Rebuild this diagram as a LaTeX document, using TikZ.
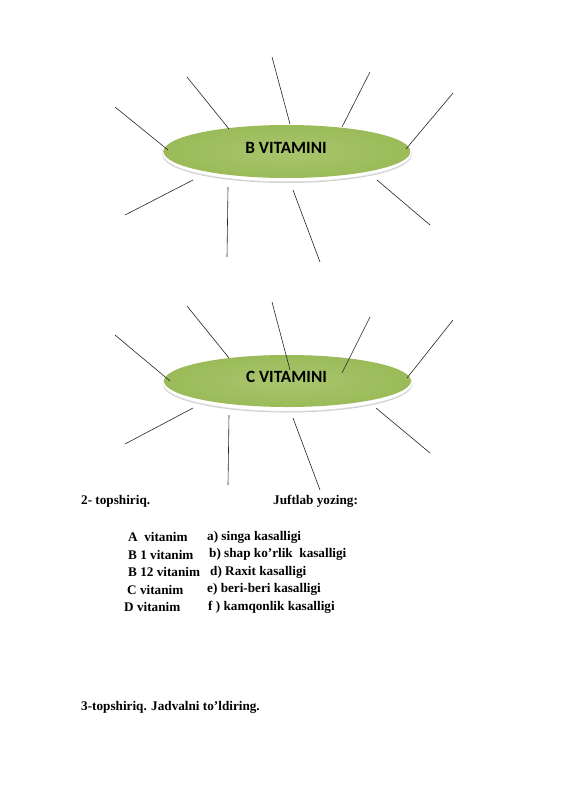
\documentclass[tikz,border=0pt]{standalone}
\usepackage{fontspec}
\setmainfont{Liberation Serif}
\newfontfamily\calib{Carlito}
\definecolor{olive}{HTML}{9BBB59}
\definecolor{olivelight}{HTML}{A9C56D}
\tikzset{
  spoke/.style={draw=black!85, line width=0.6pt},
  vtitle/.style={font=\calib\bfseries\fontsize{17.2}{20}\selectfont, inner sep=0pt},
  body/.style={font=\bfseries\fontsize{13.2}{15}\selectfont, inner sep=0pt, anchor=west},
}
\newcommand{\vellipse}[3]{%
  \fill[black!18] (#1,#2+3.5) ellipse [x radius=124.5, y radius=28];
  \fill[white] (#1,#2+2.2) ellipse [x radius=124.5, y radius=28];
  \draw[black!12, line width=0.4pt] (#1,#2+2.2) ellipse [x radius=124.5, y radius=28];
  \shade[inner color=olivelight, outer color=olive] (#1,#2) ellipse [x radius=123.5, y radius=#3];
}
\begin{document}
\begin{tikzpicture}[x=1pt,y=-1pt]
\useasboundingbox (0,0) rectangle (565,800);
\fill[white] (0,0) rectangle (565,800);

% ---------- B VITAMINI ----------
\vellipse{287}{151.5}{26.5}
\node[vtitle] (bv) at (286,148) {B VITAMINI};
\foreach \n/\ax/\ay/\bx/\by in {
  b1/115/107/168/150, b2/187/77/229/129, b3/272/57/290/124, b4/370/72/342/127,
  b5/453/93/406/149, b6/430/225/377/180, b7/320/262/293/190, b8/228/187/227/257,
  b9/193/180/125/215}{
  \coordinate (\n a) at (\ax,\ay);
  \coordinate (\n b) at (\bx,\by);
  \draw[spoke] (\n a) -- (\n b);
}

% ---------- C VITAMINI ----------
\vellipse{287.5}{381}{26}
\node[vtitle] (cv) at (286.5,377) {C VITAMINI};
\foreach \n/\ax/\ay/\bx/\by in {
  c1/115/335/170/381, c2/187/306/229/358, c3/272/302/290/370, c4/370/317/342/373,
  c5/453/320/407/378, c6/430/453/376/408, c7/320/490/293/418, c8/229/415/228/485,
  c9/193/408/125/444}{
  \coordinate (\n a) at (\ax,\ay);
  \coordinate (\n b) at (\bx,\by);
  \draw[spoke] (\n a) -- (\n b);
}

% ---------- text ----------
\node[body] (t2) at (81,501) {2- topshiriq.};
\node[body] (jy) at (273,501) {Juftlab yozing:};

\node[body] (l1) at (128,537) {A\ \ vitanim};
\node[body] (r1) at (207,537) {a) singa kasalligi};
\node[body] (l2) at (128,554.5) {B 1 vitanim};
\node[body] (r2) at (209,554.5) {b) shap ko’rlik\ \ kasalligi};
\node[body] (l3) at (128,572) {B 12 vitanim};
\node[body] (r3) at (210,572) {d) Raxit kasalligi};
\node[body] (l4) at (127,589.5) {C vitanim};
\node[body] (r4) at (207,589.5) {e) beri-beri kasalligi};
\node[body] (l5) at (124,607) {D vitanim};
\node[body] (r5) at (208,607) {f ) kamqonlik kasalligi};

\node[body] (t3) at (81,707) {3-topshiriq. Jadvalni to’ldiring.};
\end{tikzpicture}
\end{document}
